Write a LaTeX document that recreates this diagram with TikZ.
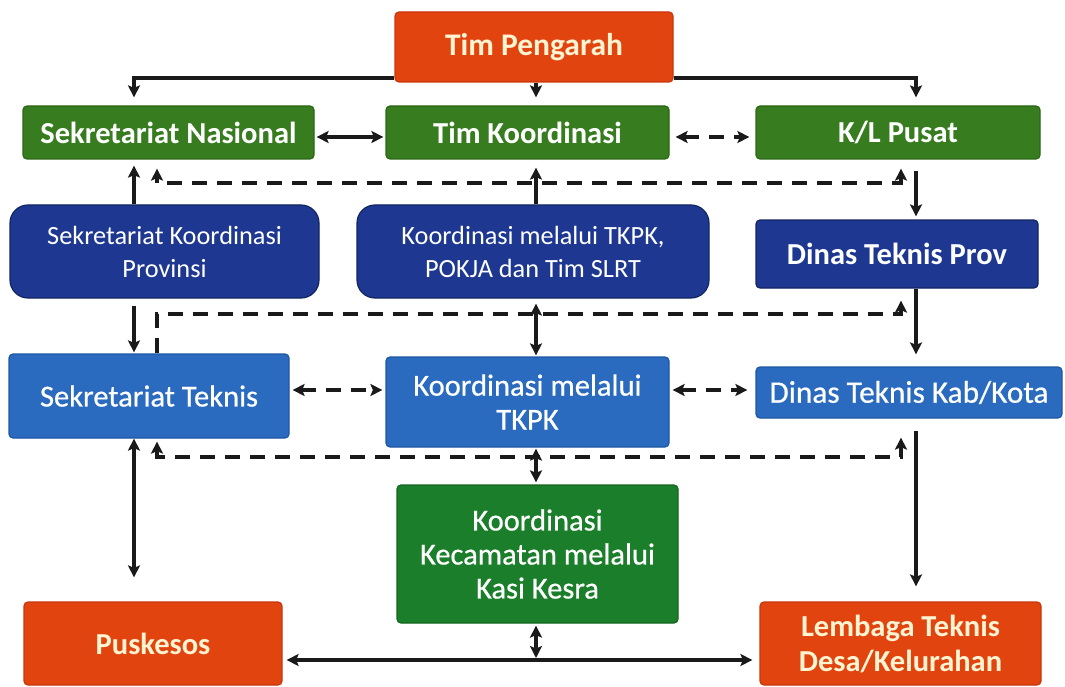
\documentclass[tikz,border=0pt]{standalone}
\usepackage{fontspec}
\setmainfont{Carlito}
\newfontfamily\medfont[FakeBold=0.6]{Carlito}
\usetikzlibrary{arrows.meta,calc}
\definecolor{orangeF}{HTML}{E2440F}
\definecolor{orangeD}{HTML}{C9360B}
\definecolor{greenF}{HTML}{377D1F}
\definecolor{greenD}{HTML}{2B6617}
\definecolor{greenK}{HTML}{1B7E2A}
\definecolor{greenKD}{HTML}{146620}
\definecolor{navyF}{HTML}{1E3892}
\definecolor{navyD}{HTML}{122561}
\definecolor{blueF}{HTML}{2A6BC0}
\definecolor{blueD}{HTML}{1F56A3}
\definecolor{cream}{HTML}{FFF4D2}
\definecolor{ink}{HTML}{1A1A1A}
\begin{document}
\begin{tikzpicture}[x=1pt,y=-1pt,
  >={Stealth[length=12pt,width=12pt,inset=2.5pt]},
  box/.style={draw, line width=1.2pt, align=center, inner sep=2pt, text=white, rounded corners=4pt},
  big/.style={font=\bfseries\fontsize{30.5}{35}\selectfont},
  reg/.style={font=\medfont\fontsize{30.5}{34}\selectfont},
  small/.style={font=\fontsize{26.3}{33}\selectfont},
  orangebox/.style={box, big, fill=orangeF, draw=orangeD, text=cream},
  greenbox/.style={box, big, fill=greenF, draw=greenD},
  kecbox/.style={box, reg, fill=greenK, draw=greenKD},
  navybox/.style={box, small, fill=navyF, draw=navyD, rounded corners=18pt},
  navyplain/.style={box, big, fill=navyF, draw=navyD},
  bluebox/.style={box, reg, fill=blueF, draw=blueD},
  link/.style={line width=3.2pt, draw=ink},
  dlink/.style={link, dash pattern=on 15pt off 10pt}
]
\useasboundingbox (0,0) rectangle (1065,687);

% boxes
\node[orangebox, font=\bfseries\fontsize{31.5}{36}\selectfont, minimum width=278pt, minimum height=70pt] (tp) at (534,47) {Tim Pengarah};
\node[greenbox, minimum width=291pt, minimum height=53pt] (sn) at (168.5,132.5) {Sekretariat Nasional};
\node[greenbox, minimum width=283pt, minimum height=53pt] (tk) at (527.5,132.5) {Tim Koordinasi};
\node[greenbox, minimum width=284pt, minimum height=53pt] (kl) at (898,132.5) {K/L Pusat};

\node[navybox, minimum width=309pt, minimum height=93pt] (skp) at (164.5,251.5) {Sekretariat Koordinasi\\Provinsi};
\node[navybox, minimum width=352pt, minimum height=93pt] (pokja) at (533,251.5) {Koordinasi melalui TKPK,\\POKJA dan Tim SLRT};
\node[navyplain, minimum width=282pt, minimum height=68pt] (dtp) at (897,254) {Dinas Teknis Prov};

\node[bluebox, minimum width=280pt, minimum height=84pt] (st) at (149,396) {Sekretariat Teknis};
\node[bluebox, minimum width=283pt, minimum height=90pt] (kt) at (527.5,402) {Koordinasi melalui\\TKPK};
\node[bluebox, font=\medfont\fontsize{31.3}{34}\selectfont, minimum width=306pt, minimum height=51pt] (dtk) at (909,392.5) {Dinas Teknis Kab/Kota};

\node[kecbox, minimum width=281pt, minimum height=138pt] (kc) at (537.5,554) {Koordinasi\\Kecamatan melalui\\Kasi Kesra};

\node[orangebox, minimum width=258pt, minimum height=83pt] (pk) at (153,643.5) {Puskesos};
\node[orangebox, minimum width=281pt, minimum height=83pt] (lt) at (900.5,643.5) {Lembaga Teknis\\Desa/Kelurahan};

% column and row guides for the connectors
\coordinate (cl) at (134,0);
\coordinate (cd) at (157,0);
\coordinate (cm) at (536,0);
\coordinate (crd) at (901,0);
\coordinate (cr) at (916,0);
\coordinate (h0) at (0,78);
\coordinate (r1) at (0,137);
\coordinate (d1) at (0,183);
\coordinate (d2) at (0,314);
\coordinate (r3) at (0,390);
\coordinate (d3) at (0,457);
\coordinate (r5) at (0,660);

% top level
\draw[link,->,shorten >=8pt] (tp.west |- h0) -| (cl |- sn.north);
\draw[link,->,shorten >=8pt] (tp.east |- h0) -| (cr |- kl.north);
\draw[link,->,shorten >=8pt] (tp.south -| cm) -- (tk.north -| cm);
\draw[link,<->,shorten <=2pt,shorten >=2pt] (sn.east |- r1) -- (tk.west |- r1);
\draw[dlink,<->,shorten <=6pt,shorten >=6pt] (tk.east |- r1) -- (kl.west |- r1);

% province level
\draw[link,->,shorten >=6pt] (skp.north -| cl) -- (sn.south -| cl);
\draw[dlink,<->] ($(kl.south -| crd)+(0,9)$) |- (d1 -| cd) -- ($(sn.south -| cd)+(0,9)$);
\draw[link,->,shorten >=8pt] (pokja.north -| cm) -- (tk.south -| cm);
\draw[link,->,shorten >=3pt] ($(kl.south -| cr)+(0,11)$) -- (dtp.north -| cr);

% district level
\draw[link,->,shorten >=1pt] ($(skp.south -| cl)+(0,7)$) -- (st.north -| cl);
\draw[dlink,->] (st.north -| cd) |- (d2 -| crd) -- ($(dtp.south -| crd)+(0,12)$);
\draw[link,<->,shorten <=5pt,shorten >=1pt] (pokja.south -| cm) -- (kt.north -| cm);
\draw[link,->,shorten >=12pt] (dtp.south -| cr) -- (dtk.north -| cr);
\draw[dlink,<->,shorten <=3pt,shorten >=3pt] (st.east |- r3) -- (kt.west |- r3);
\draw[dlink,<->,shorten <=3pt,shorten >=8pt] (kt.east |- r3) -- (dtk.west |- r3);

% sub-district and village level
\draw[link,<->,shorten >=24pt] (st.south -| cl) -- (pk.north -| cl);
\draw[dlink,<->] ($(st.south -| cd)+(0,3)$) |- (d3 -| crd) -- ($(dtk.south -| crd)+(0,19)$);
\draw[link,<->,shorten <=1pt,shorten >=2pt] (kt.south -| cm) -- (kc.north -| cm);
\draw[link,->,shorten >=15pt] ($(dtk.south -| cr)+(0,12)$) -- (lt.north -| cr);
\draw[link,<->,shorten <=4pt,shorten >=7pt] (pk.east |- r5) -- (lt.west |- r5);
\draw[link,<->,shorten <=2pt,shorten >=2pt] (kc.south -| cm) -- (r5 -| cm);
\end{tikzpicture}
\end{document}
